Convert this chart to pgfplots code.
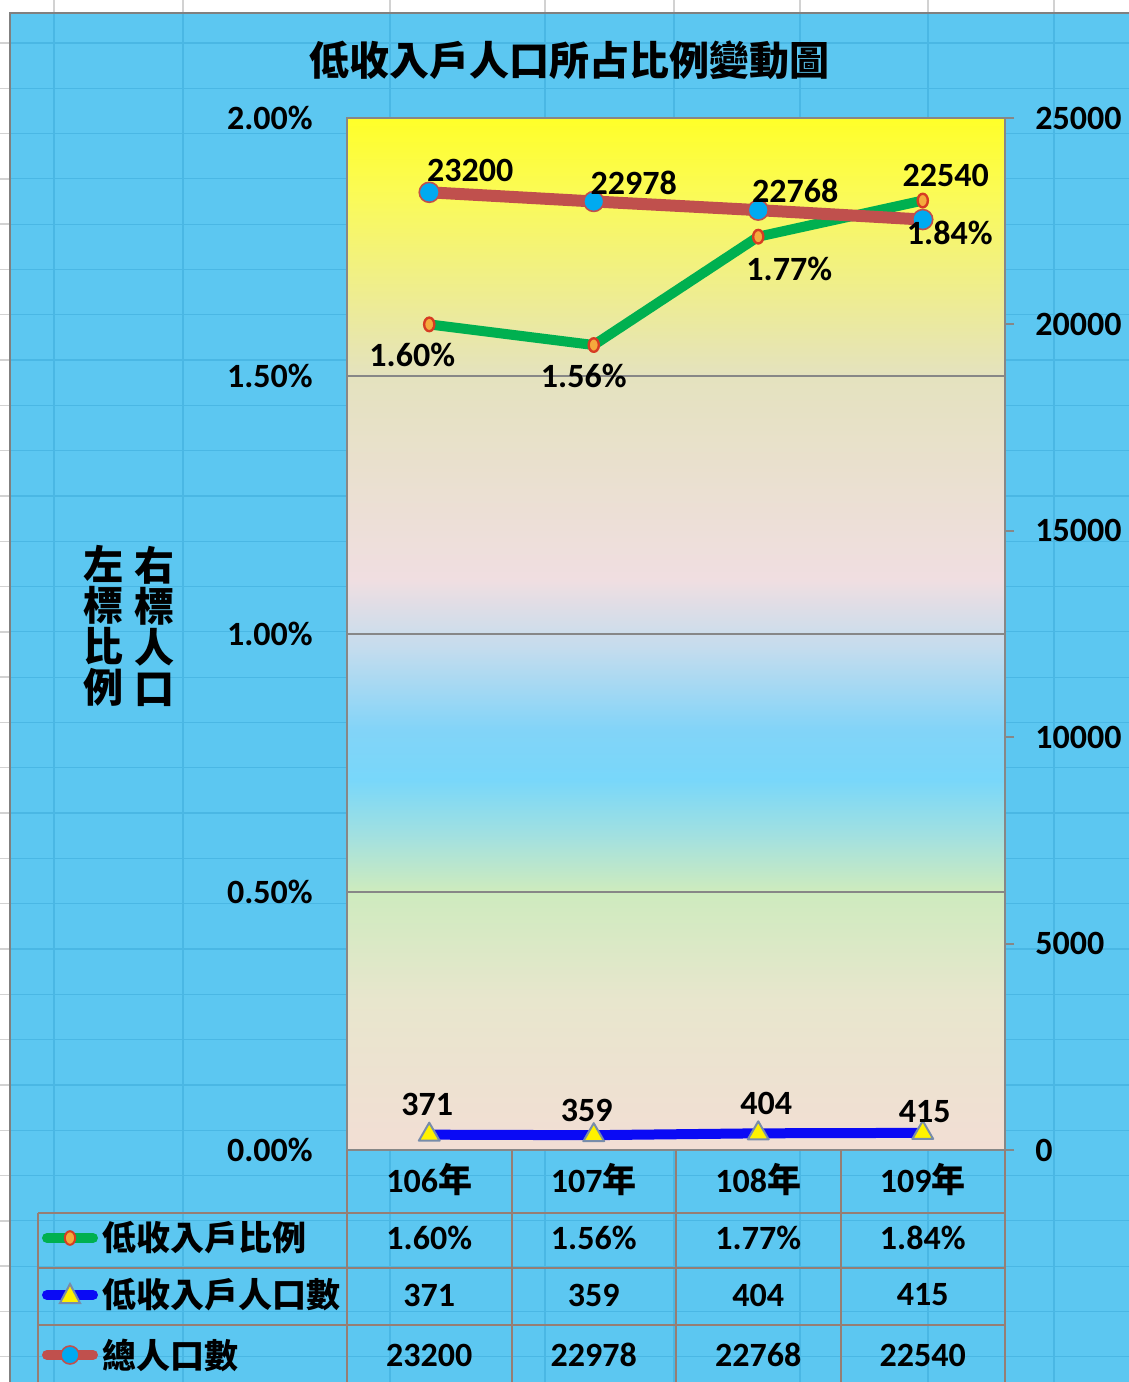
\documentclass[border=0pt]{standalone}
\usepackage{fontspec}
\setmainfont{Carlito}
\newfontfamily\cjk{Noto Sans CJK TC}
\usepackage{pgfplots}
\usepackage{pgfplotstable}
\pgfplotsset{compat=1.18}
\pgfplotsset{/pgf/number format/assume math mode=true, /pgf/number format/1000 sep={}}

\definecolor{sky}{RGB}{92,199,241}
\definecolor{skyline}{RGB}{74,183,228}
\definecolor{tbline}{RGB}{150,126,116}
\definecolor{axgray}{RGB}{135,135,135}
\definecolor{ratiogreen}{RGB}{0,176,80}
\definecolor{poplred}{RGB}{192,80,77}
\definecolor{lowblue}{RGB}{10,10,245}
\definecolor{dotblue}{RGB}{0,170,240}
\definecolor{mkfill}{RGB}{245,170,60}
\definecolor{mkdraw}{RGB}{215,60,35}
\definecolor{trigray}{RGB}{120,140,170}
% plot area gradient, bottom to top
\definecolor{g0}{RGB}{242,222,212}
\definecolor{g1}{RGB}{232,230,205}
\definecolor{g2}{RGB}{205,235,190}
\definecolor{g3}{RGB}{165,225,222}
\definecolor{g4}{RGB}{120,215,250}
\definecolor{g5}{RGB}{130,212,248}
\definecolor{g6}{RGB}{195,220,238}
\definecolor{g7}{RGB}{240,222,225}
\definecolor{g8}{RGB}{228,226,190}
\definecolor{g9}{RGB}{250,250,90}
\definecolor{g10}{RGB}{255,255,40}

\newcommand\nf{\fontsize{17}{20}\selectfont\bfseries}

% label offsets dx, dy in pt
\pgfplotstableread{
x ratio dx dy
0 1.60 -8.5 -15.5
1 1.56 -5.0 -15.5
2 1.77 15.5 -16.0
3 1.84 13.5 -16.0
}\ratiotab
\pgfplotstableread{
x low dx dy
0 371 -1.0 15.0
1 359 -3.5 12.5
2 404 4.0 15.0
3 415 1.0 10.5
}\lowtab
\pgfplotstableread{
x total dx dy
0 23200 20.5 11.0
1 22978 20.0 9.5
2 22768 18.5 9.5
3 22540 11.5 22.0
}\totaltab

\pgfplotsset{
  lbl/.style={
    nodes near coords,
    visualization depends on={\thisrow{dx}\as\ldx},
    visualization depends on={\thisrow{dy}\as\ldy},
    every node near coord/.style={anchor=center, inner sep=0pt,
      xshift=\ldx pt, yshift=\ldy pt, font=\nf, text=black},
  },
  box/.style={at={(0,0)}, anchor=south west, scale only axis,
    width=329pt, height=516pt, xmin=-0.5, xmax=3.5, clip=false},
}

\begin{document}
\begin{tikzpicture}[x=1pt,y=1pt]
% sheet and chart area
\fill[white] (-173.5,-116) rectangle (391,575);
\foreach \px in {54,183,390,545,674,800,928,1054}
  \draw[gray!35, line width=0.7pt] ({(\px-347)/2},568.5) -- ({(\px-347)/2},575);
\foreach \k in {0,...,29}
  \draw[gray!35, line width=0.7pt] (-173.5,{(1107-45.3*\k)/2}) -- (-168.5,{(1107-45.3*\k)/2});
\fill[sky] (-168.5,-116) rectangle (391,568.5);
\foreach \px in {54,183,390,545,674,800,928,1054}
  \draw[skyline, line width=0.6pt] ({(\px-347)/2},-116) -- ({(\px-347)/2},568.5);
\foreach \k in {0,...,29}
  \draw[skyline, line width=0.6pt] (-168.5,{(1107-45.3*\k)/2}) -- (391,{(1107-45.3*\k)/2});
\draw[gray, line width=0.8pt] (-168.5,-116) -- (-168.5,568.5) -- (391,568.5);

% plot area
\foreach \ya/\yb/\ca/\cb in {0/75/g0/g1, 75/130/g1/g2, 130/155/g2/g3, 155/185/g3/g4,
    185/210/g4/g5, 210/250/g5/g6, 250/285/g6/g7, 285/387.5/g7/g8,
    387.5/475/g8/g9, 475/516/g9/g10}
  \shade[bottom color=\ca, top color=\cb] (0,\ya) rectangle (329,\yb+0.4);

\node[font=\cjk\bfseries\fontsize{20}{24}\selectfont] at (111.5,545) {低收入戶人口所占比例變動圖};
\node[font=\cjk\bfseries\fontsize{20}{20.5}\selectfont, align=center] at (-121.5,262) {左\\標\\比\\例};
\node[font=\cjk\bfseries\fontsize{20}{20.5}\selectfont, align=center] at (-96,262) {右\\標\\人\\口};

\begin{axis}[box, ymin=0, ymax=2,
  axis line style={draw=axgray, line width=1pt},
  xtick={0,1,2,3},
  xticklabels={106{\cjk 年},107{\cjk 年},108{\cjk 年},109{\cjk 年}},
  ytick={0,0.5,1,1.5,2},
  yticklabels={0.00\%,0.50\%,1.00\%,1.50\%,2.00\%},
  major tick length=0pt,
  ymajorgrids, grid style={draw=axgray, line width=1pt},
  ticklabel style={font=\nf},
  yticklabel style={inner sep=0pt, anchor=east, xshift=-17pt},
  xticklabel style={inner sep=0pt, anchor=center, yshift=-15pt},
]
\addplot[ratiogreen, line width=5pt, line cap=round, line join=round,
  mark=*, mark size=3.4pt,
  mark options={xscale=0.75, fill=mkfill, draw=mkdraw, line width=1.2pt}]
  table[x=x, y=ratio] {\ratiotab};
\end{axis}

\begin{axis}[box, ymin=0, ymax=25000,
  axis x line=none, axis y line*=right,
  axis line style={draw=axgray, line width=1pt},
  ytick={0,5000,10000,15000,20000,25000},
  scaled y ticks=false,
  tick align=outside, major tick length=4.5pt,
  ytick style={draw=axgray, line width=1pt},
  yticklabel style={font=\nf, inner sep=0pt, anchor=west, xshift=10.5pt},
]
\addplot[lowblue, line width=5pt, line cap=round, line join=round,
  mark=triangle*, mark size=6pt,
  mark options={fill=yellow, draw=trigray, line width=1pt},
  lbl, point meta=\thisrow{low}]
  table[x=x, y=low] {\lowtab};
\addplot[poplred, line width=6pt, line cap=round, line join=round,
  mark=*, mark size=5pt,
  mark options={fill=dotblue, draw=poplred, line width=0.8pt},
  lbl, point meta=\thisrow{total}]
  table[x=x, y=total] {\totaltab};
\end{axis}

\begin{axis}[box, ymin=0, ymax=2, hide axis]
\addplot[draw=none, mark=none, lbl, point meta=\thisrow{ratio},
  nodes near coords={\pgfmathprintnumber[fixed,fixed zerofill,precision=2]{\pgfplotspointmeta}\%}]
  table[x=x, y=ratio] {\ratiotab};
\end{axis}

% data table below the plot
\begin{scope}[draw=tbline, line width=1pt]
  \foreach \xx in {0,82.25,164.5,246.75,329} \draw (\xx,0) -- (\xx,-116);
  \draw (-154.5,-31.5) -- (-154.5,-116);
  \foreach \yy in {-31.5,-59,-87.5} \draw (-154.5,\yy) -- (329,\yy);
\end{scope}
\foreach \v [count=\i from 0] in {1.60\%,1.56\%,1.77\%,1.84\%}
  \node[font=\nf] at ({41.125+82.25*\i},-44) {\v};
\foreach \v [count=\i from 0] in {371,359,404,415}
  \node[font=\nf] at ({41.125+82.25*\i},-72.5) {\v};
\foreach \v [count=\i from 0] in {23200,22978,22768,22540}
  \node[font=\nf] at ({41.125+82.25*\i},-102.5) {\v};

% legend keys
\draw[ratiogreen, line width=5pt, line cap=round] (-150,-44) -- (-127,-44);
\fill[mkfill, draw=mkdraw, line width=1pt] (-138.5,-44) ellipse (2.6 and 3.4);
\draw[lowblue, line width=5pt, line cap=round] (-150,-72.5) -- (-127,-72.5);
\filldraw[fill=yellow, draw=trigray, line width=1pt] (-143.5,-76.5) -- (-133.5,-76.5) -- (-138.5,-67) -- cycle;
\draw[poplred, line width=5pt, line cap=round] (-150,-102.5) -- (-127,-102.5);
\filldraw[fill=dotblue, draw=poplred, line width=0.8pt] (-138.5,-102.5) circle (4.5);
\node[font=\cjk\bfseries\fontsize{17}{20}\selectfont, anchor=west, inner sep=0pt] at (-122.5,-44) {低收入戶比例};
\node[font=\cjk\bfseries\fontsize{17}{20}\selectfont, anchor=west, inner sep=0pt] at (-122.5,-72.5) {低收入戶人口數};
\node[font=\cjk\bfseries\fontsize{17}{20}\selectfont, anchor=west, inner sep=0pt] at (-122.5,-102.5) {總人口數};

\pgfresetboundingbox
\useasboundingbox (-173.5,-116) rectangle (391,575);
\end{tikzpicture}
\end{document}
